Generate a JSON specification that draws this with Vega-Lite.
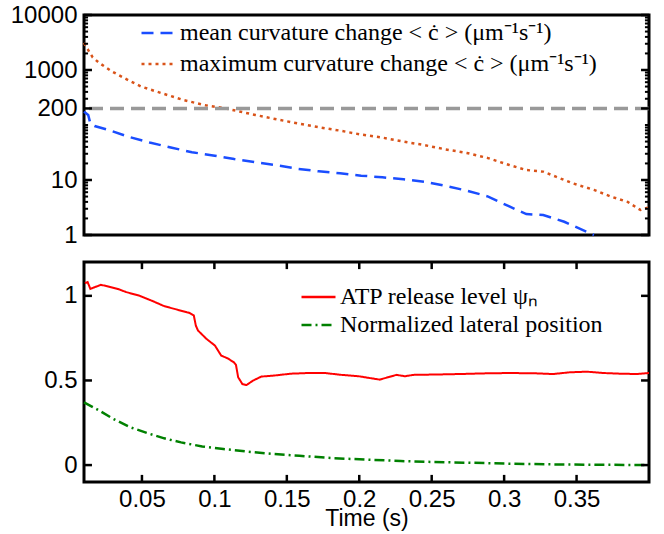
{
  "$schema": "https://vega.github.io/schema/vega-lite/v6.json",
  "padding": {"left": 8, "top": 1, "right": 5, "bottom": 4},
  "config": {
    "view": {"stroke": "black", "strokeWidth": 3},
    "axis": {"ticks": false, "labelFont": "Liberation Sans", "labelFontSize": 24, "labelColor": "black", "titleFont": "Liberation Sans", "titleFontSize": 23, "titleFontWeight": "normal", "titleColor": "black", "grid": false, "domain": false},
    "legend": {"labelFont": "Liberation Serif", "labelColor": "black", "labelFontSize": 24, "labelLimit": 600, "symbolType": "stroke", "symbolSize": 1156, "symbolStrokeWidth": 2.5, "labelOffset": 3, "padding": 0, "title": null}
  },
  "datasets": {
    "curv": [
      {"t": 0.01, "v": 175, "series": "mean curvature change < ċ > (μm⁻¹s⁻¹)"},
      {"t": 0.0129, "v": 152, "series": "mean curvature change < ċ > (μm⁻¹s⁻¹)"},
      {"t": 0.0144, "v": 106, "series": "mean curvature change < ċ > (μm⁻¹s⁻¹)"},
      {"t": 0.0173, "v": 96, "series": "mean curvature change < ċ > (μm⁻¹s⁻¹)"},
      {"t": 0.029, "v": 78, "series": "mean curvature change < ċ > (μm⁻¹s⁻¹)"},
      {"t": 0.0407, "v": 61, "series": "mean curvature change < ċ > (μm⁻¹s⁻¹)"},
      {"t": 0.0553, "v": 48, "series": "mean curvature change < ċ > (μm⁻¹s⁻¹)"},
      {"t": 0.0699, "v": 39, "series": "mean curvature change < ċ > (μm⁻¹s⁻¹)"},
      {"t": 0.0845, "v": 32, "series": "mean curvature change < ċ > (μm⁻¹s⁻¹)"},
      {"t": 0.0991, "v": 28, "series": "mean curvature change < ċ > (μm⁻¹s⁻¹)"},
      {"t": 0.1137, "v": 24, "series": "mean curvature change < ċ > (μm⁻¹s⁻¹)"},
      {"t": 0.1283, "v": 21, "series": "mean curvature change < ċ > (μm⁻¹s⁻¹)"},
      {"t": 0.1429, "v": 18.5, "series": "mean curvature change < ċ > (μm⁻¹s⁻¹)"},
      {"t": 0.1575, "v": 16, "series": "mean curvature change < ċ > (μm⁻¹s⁻¹)"},
      {"t": 0.172, "v": 14.4, "series": "mean curvature change < ċ > (μm⁻¹s⁻¹)"},
      {"t": 0.1867, "v": 13.2, "series": "mean curvature change < ċ > (μm⁻¹s⁻¹)"},
      {"t": 0.2013, "v": 12, "series": "mean curvature change < ċ > (μm⁻¹s⁻¹)"},
      {"t": 0.2159, "v": 11.2, "series": "mean curvature change < ċ > (μm⁻¹s⁻¹)"},
      {"t": 0.2305, "v": 10.3, "series": "mean curvature change < ċ > (μm⁻¹s⁻¹)"},
      {"t": 0.2451, "v": 9.3, "series": "mean curvature change < ċ > (μm⁻¹s⁻¹)"},
      {"t": 0.2597, "v": 7.8, "series": "mean curvature change < ċ > (μm⁻¹s⁻¹)"},
      {"t": 0.2743, "v": 6.4, "series": "mean curvature change < ċ > (μm⁻¹s⁻¹)"},
      {"t": 0.289, "v": 5, "series": "mean curvature change < ċ > (μm⁻¹s⁻¹)"},
      {"t": 0.3036, "v": 3.3, "series": "mean curvature change < ċ > (μm⁻¹s⁻¹)"},
      {"t": 0.3153, "v": 2.4, "series": "mean curvature change < ċ > (μm⁻¹s⁻¹)"},
      {"t": 0.327, "v": 2.3, "series": "mean curvature change < ċ > (μm⁻¹s⁻¹)"},
      {"t": 0.3415, "v": 1.74, "series": "mean curvature change < ċ > (μm⁻¹s⁻¹)"},
      {"t": 0.362, "v": 1.0, "series": "mean curvature change < ċ > (μm⁻¹s⁻¹)"},
      {"t": 0.01, "v": 3100, "series": "maximum curvature change < ċ > (μm⁻¹s⁻¹)"},
      {"t": 0.0125, "v": 2400, "series": "maximum curvature change < ċ > (μm⁻¹s⁻¹)"},
      {"t": 0.016, "v": 1700, "series": "maximum curvature change < ċ > (μm⁻¹s⁻¹)"},
      {"t": 0.0204, "v": 1350, "series": "maximum curvature change < ċ > (μm⁻¹s⁻¹)"},
      {"t": 0.029, "v": 950, "series": "maximum curvature change < ċ > (μm⁻¹s⁻¹)"},
      {"t": 0.0407, "v": 650, "series": "maximum curvature change < ċ > (μm⁻¹s⁻¹)"},
      {"t": 0.0494, "v": 500, "series": "maximum curvature change < ċ > (μm⁻¹s⁻¹)"},
      {"t": 0.064, "v": 376, "series": "maximum curvature change < ċ > (μm⁻¹s⁻¹)"},
      {"t": 0.0786, "v": 285, "series": "maximum curvature change < ċ > (μm⁻¹s⁻¹)"},
      {"t": 0.0932, "v": 230, "series": "maximum curvature change < ċ > (μm⁻¹s⁻¹)"},
      {"t": 0.1079, "v": 200, "series": "maximum curvature change < ċ > (μm⁻¹s⁻¹)"},
      {"t": 0.1283, "v": 152, "series": "maximum curvature change < ċ > (μm⁻¹s⁻¹)"},
      {"t": 0.1429, "v": 127, "series": "maximum curvature change < ċ > (μm⁻¹s⁻¹)"},
      {"t": 0.1575, "v": 107, "series": "maximum curvature change < ċ > (μm⁻¹s⁻¹)"},
      {"t": 0.1721, "v": 91, "series": "maximum curvature change < ċ > (μm⁻¹s⁻¹)"},
      {"t": 0.1867, "v": 79, "series": "maximum curvature change < ċ > (μm⁻¹s⁻¹)"},
      {"t": 0.2013, "v": 67, "series": "maximum curvature change < ċ > (μm⁻¹s⁻¹)"},
      {"t": 0.2159, "v": 59, "series": "maximum curvature change < ċ > (μm⁻¹s⁻¹)"},
      {"t": 0.2305, "v": 50, "series": "maximum curvature change < ċ > (μm⁻¹s⁻¹)"},
      {"t": 0.2451, "v": 43, "series": "maximum curvature change < ċ > (μm⁻¹s⁻¹)"},
      {"t": 0.2597, "v": 36, "series": "maximum curvature change < ċ > (μm⁻¹s⁻¹)"},
      {"t": 0.2743, "v": 31, "series": "maximum curvature change < ċ > (μm⁻¹s⁻¹)"},
      {"t": 0.2889, "v": 25, "series": "maximum curvature change < ċ > (μm⁻¹s⁻¹)"},
      {"t": 0.3036, "v": 18.7, "series": "maximum curvature change < ċ > (μm⁻¹s⁻¹)"},
      {"t": 0.3152, "v": 15.2, "series": "maximum curvature change < ċ > (μm⁻¹s⁻¹)"},
      {"t": 0.3269, "v": 14.2, "series": "maximum curvature change < ċ > (μm⁻¹s⁻¹)"},
      {"t": 0.3357, "v": 11.5, "series": "maximum curvature change < ċ > (μm⁻¹s⁻¹)"},
      {"t": 0.3474, "v": 8.7, "series": "maximum curvature change < ċ > (μm⁻¹s⁻¹)"},
      {"t": 0.362, "v": 6.6, "series": "maximum curvature change < ċ > (μm⁻¹s⁻¹)"},
      {"t": 0.3737, "v": 5, "series": "maximum curvature change < ċ > (μm⁻¹s⁻¹)"},
      {"t": 0.3853, "v": 4.0, "series": "maximum curvature change < ċ > (μm⁻¹s⁻¹)"},
      {"t": 0.3941, "v": 2.85, "series": "maximum curvature change < ċ > (μm⁻¹s⁻¹)"},
      {"t": 0.4, "v": 3.2, "series": "maximum curvature change < ċ > (μm⁻¹s⁻¹)"}
    ],
    "ref": [{"v": 200}],
    "majorticks": [{"v": 1}, {"v": 10}, {"v": 200}, {"v": 1000}, {"v": 10000}],
    "minorticks": [
      {"v": 2}, {"v": 3}, {"v": 4}, {"v": 5}, {"v": 6}, {"v": 7}, {"v": 8}, {"v": 9},
      {"v": 20}, {"v": 30}, {"v": 40}, {"v": 50}, {"v": 60}, {"v": 70}, {"v": 80}, {"v": 90},
      {"v": 100}, {"v": 300}, {"v": 400}, {"v": 500}, {"v": 600}, {"v": 700}, {"v": 800}, {"v": 900},
      {"v": 2000}, {"v": 3000}, {"v": 4000}, {"v": 5000}, {"v": 6000}, {"v": 7000}, {"v": 8000}, {"v": 9000}
    ],
    "xticks": [{"t": 0.05}, {"t": 0.1}, {"t": 0.15}, {"t": 0.2}, {"t": 0.25}, {"t": 0.3}, {"t": 0.35}],
    "yticks": [{"v": 0}, {"v": 0.5}, {"v": 1}],
    "atp": [
      {"t": 0.0106, "v": 1.075, "series": "ATP release level ψₙ"},
      {"t": 0.0125, "v": 1.081, "series": "ATP release level ψₙ"},
      {"t": 0.0144, "v": 1.041, "series": "ATP release level ψₙ"},
      {"t": 0.0173, "v": 1.051, "series": "ATP release level ψₙ"},
      {"t": 0.0217, "v": 1.065, "series": "ATP release level ψₙ"},
      {"t": 0.026, "v": 1.057, "series": "ATP release level ψₙ"},
      {"t": 0.0333, "v": 1.041, "series": "ATP release level ψₙ"},
      {"t": 0.0392, "v": 1.022, "series": "ATP release level ψₙ"},
      {"t": 0.0479, "v": 1.002, "series": "ATP release level ψₙ"},
      {"t": 0.0566, "v": 0.972, "series": "ATP release level ψₙ"},
      {"t": 0.0654, "v": 0.939, "series": "ATP release level ψₙ"},
      {"t": 0.0741, "v": 0.919, "series": "ATP release level ψₙ"},
      {"t": 0.0829, "v": 0.899, "series": "ATP release level ψₙ"},
      {"t": 0.0858, "v": 0.884, "series": "ATP release level ψₙ"},
      {"t": 0.0872, "v": 0.824, "series": "ATP release level ψₙ"},
      {"t": 0.0887, "v": 0.795, "series": "ATP release level ψₙ"},
      {"t": 0.0945, "v": 0.746, "series": "ATP release level ψₙ"},
      {"t": 0.1004, "v": 0.706, "series": "ATP release level ψₙ"},
      {"t": 0.1047, "v": 0.647, "series": "ATP release level ψₙ"},
      {"t": 0.1091, "v": 0.631, "series": "ATP release level ψₙ"},
      {"t": 0.1135, "v": 0.607, "series": "ATP release level ψₙ"},
      {"t": 0.1149, "v": 0.592, "series": "ATP release level ψₙ"},
      {"t": 0.1164, "v": 0.519, "series": "ATP release level ψₙ"},
      {"t": 0.1193, "v": 0.479, "series": "ATP release level ψₙ"},
      {"t": 0.1222, "v": 0.473, "series": "ATP release level ψₙ"},
      {"t": 0.1266, "v": 0.499, "series": "ATP release level ψₙ"},
      {"t": 0.1324, "v": 0.523, "series": "ATP release level ψₙ"},
      {"t": 0.1412, "v": 0.529, "series": "ATP release level ψₙ"},
      {"t": 0.1528, "v": 0.54, "series": "ATP release level ψₙ"},
      {"t": 0.1645, "v": 0.544, "series": "ATP release level ψₙ"},
      {"t": 0.1762, "v": 0.544, "series": "ATP release level ψₙ"},
      {"t": 0.1878, "v": 0.533, "series": "ATP release level ψₙ"},
      {"t": 0.1995, "v": 0.525, "series": "ATP release level ψₙ"},
      {"t": 0.2082, "v": 0.513, "series": "ATP release level ψₙ"},
      {"t": 0.2141, "v": 0.505, "series": "ATP release level ψₙ"},
      {"t": 0.2199, "v": 0.519, "series": "ATP release level ψₙ"},
      {"t": 0.2257, "v": 0.533, "series": "ATP release level ψₙ"},
      {"t": 0.2315, "v": 0.525, "series": "ATP release level ψₙ"},
      {"t": 0.2374, "v": 0.533, "series": "ATP release level ψₙ"},
      {"t": 0.2519, "v": 0.535, "series": "ATP release level ψₙ"},
      {"t": 0.2694, "v": 0.538, "series": "ATP release level ψₙ"},
      {"t": 0.2869, "v": 0.542, "series": "ATP release level ψₙ"},
      {"t": 0.3044, "v": 0.544, "series": "ATP release level ψₙ"},
      {"t": 0.3219, "v": 0.542, "series": "ATP release level ψₙ"},
      {"t": 0.3336, "v": 0.538, "series": "ATP release level ψₙ"},
      {"t": 0.3452, "v": 0.548, "series": "ATP release level ψₙ"},
      {"t": 0.3569, "v": 0.552, "series": "ATP release level ψₙ"},
      {"t": 0.3685, "v": 0.544, "series": "ATP release level ψₙ"},
      {"t": 0.3802, "v": 0.54, "series": "ATP release level ψₙ"},
      {"t": 0.3919, "v": 0.538, "series": "ATP release level ψₙ"},
      {"t": 0.4, "v": 0.544, "series": "ATP release level ψₙ"}
    ],
    "lat": [
      {"t": 0.01, "v": 0.371, "series": "Normalized lateral position"},
      {"t": 0.0187, "v": 0.331, "series": "Normalized lateral position"},
      {"t": 0.0304, "v": 0.272, "series": "Normalized lateral position"},
      {"t": 0.0421, "v": 0.223, "series": "Normalized lateral position"},
      {"t": 0.0537, "v": 0.189, "series": "Normalized lateral position"},
      {"t": 0.0654, "v": 0.158, "series": "Normalized lateral position"},
      {"t": 0.077, "v": 0.134, "series": "Normalized lateral position"},
      {"t": 0.0916, "v": 0.11, "series": "Normalized lateral position"},
      {"t": 0.1062, "v": 0.095, "series": "Normalized lateral position"},
      {"t": 0.1237, "v": 0.079, "series": "Normalized lateral position"},
      {"t": 0.1412, "v": 0.065, "series": "Normalized lateral position"},
      {"t": 0.1587, "v": 0.055, "series": "Normalized lateral position"},
      {"t": 0.182, "v": 0.041, "series": "Normalized lateral position"},
      {"t": 0.2053, "v": 0.032, "series": "Normalized lateral position"},
      {"t": 0.2286, "v": 0.024, "series": "Normalized lateral position"},
      {"t": 0.2519, "v": 0.018, "series": "Normalized lateral position"},
      {"t": 0.2753, "v": 0.014, "series": "Normalized lateral position"},
      {"t": 0.3044, "v": 0.008, "series": "Normalized lateral position"},
      {"t": 0.3336, "v": 0.004, "series": "Normalized lateral position"},
      {"t": 0.3627, "v": 0.002, "series": "Normalized lateral position"},
      {"t": 0.4, "v": 0.0, "series": "Normalized lateral position"}
    ]
  },
  "spacing": 27,
  "bounds": "flush",
  "resolve": {
    "scale": {"x": "independent", "y": "independent", "color": "independent", "strokeDash": "independent"},
    "legend": {"color": "independent", "strokeDash": "independent"}
  },
  "vconcat": [
    {
      "width": 565,
      "height": 220,
      "layer": [
        {
          "data": {"name": "curv"},
          "mark": {"type": "line", "strokeWidth": 2.5},
          "encoding": {
            "x": {"field": "t", "type": "quantitative", "scale": {"domain": [0.01, 0.4], "nice": false, "zero": false}, "axis": null},
            "y": {"field": "v", "type": "quantitative", "scale": {"type": "log", "domain": [1, 10000], "nice": false},
              "axis": {"orient": "left", "title": null, "format": "d", "grid": false, "ticks": false, "labelPadding": 7, "values": [1, 10, 200, 1000, 10000]}},
            "color": {"field": "series", "type": "nominal",
              "scale": {"domain": ["mean curvature change < ċ > (μm⁻¹s⁻¹)", "maximum curvature change < ċ > (μm⁻¹s⁻¹)"], "range": ["#1a4dff", "#d95319"]},
              "legend": {"orient": "none", "legendX": 56, "legendY": 5, "clipHeight": 26, "rowPadding": 5}},
            "strokeDash": {"field": "series", "type": "nominal",
              "scale": {"domain": ["mean curvature change < ċ > (μm⁻¹s⁻¹)", "maximum curvature change < ċ > (μm⁻¹s⁻¹)"], "range": [[12, 7], [3, 4]]},
              "legend": {"orient": "none", "legendX": 56, "legendY": 5, "clipHeight": 26, "rowPadding": 5}}
          }
        },
        {
          "data": {"name": "ref"},
          "mark": {"type": "rule", "color": "#999999", "strokeWidth": 3.5, "strokeDash": [14, 7]},
          "encoding": {
            "y": {"field": "v", "type": "quantitative", "scale": {"type": "log", "domain": [1, 10000], "nice": false}}
          }
        },
        {
          "data": {"name": "majorticks"},
          "mark": {"type": "rule", "color": "black", "strokeWidth": 2.5},
          "encoding": {
            "x": {"datum": 0.01, "type": "quantitative", "scale": {"domain": [0.01, 0.4], "nice": false, "zero": false}, "axis": null},
            "x2": {"datum": 0.0155},
            "y": {"field": "v", "type": "quantitative", "scale": {"type": "log", "domain": [1, 10000], "nice": false}}
          }
        },
        {
          "data": {"name": "majorticks"},
          "mark": {"type": "rule", "color": "black", "strokeWidth": 2.5},
          "encoding": {
            "x": {"datum": 0.4, "type": "quantitative", "scale": {"domain": [0.01, 0.4], "nice": false, "zero": false}, "axis": null},
            "x2": {"datum": 0.3945},
            "y": {"field": "v", "type": "quantitative", "scale": {"type": "log", "domain": [1, 10000], "nice": false}}
          }
        },
        {
          "data": {"name": "minorticks"},
          "mark": {"type": "rule", "color": "black", "strokeWidth": 2},
          "encoding": {
            "x": {"datum": 0.01, "type": "quantitative", "scale": {"domain": [0.01, 0.4], "nice": false, "zero": false}, "axis": null},
            "x2": {"datum": 0.0128},
            "y": {"field": "v", "type": "quantitative", "scale": {"type": "log", "domain": [1, 10000], "nice": false}}
          }
        },
        {
          "data": {"name": "minorticks"},
          "mark": {"type": "rule", "color": "black", "strokeWidth": 2},
          "encoding": {
            "x": {"datum": 0.4, "type": "quantitative", "scale": {"domain": [0.01, 0.4], "nice": false, "zero": false}, "axis": null},
            "x2": {"datum": 0.3972},
            "y": {"field": "v", "type": "quantitative", "scale": {"type": "log", "domain": [1, 10000], "nice": false}}
          }
        }
      ]
    },
    {
      "width": 565,
      "height": 220,
      "layer": [
        {
          "data": {"name": "atp"},
          "mark": {"type": "line", "strokeWidth": 2},
          "encoding": {
            "x": {"field": "t", "type": "quantitative", "scale": {"domain": [0.01, 0.4], "nice": false, "zero": false},
              "axis": {"orient": "bottom", "title": "Time (s)", "format": "~g", "grid": false, "ticks": false, "labelPadding": 5, "titlePadding": -4, "values": [0.05, 0.1, 0.15, 0.2, 0.25, 0.3, 0.35]}},
            "y": {"field": "v", "type": "quantitative", "scale": {"domain": [-0.1, 1.2], "nice": false, "zero": false},
              "axis": {"orient": "left", "title": null, "format": "~g", "grid": false, "ticks": false, "labelPadding": 7, "values": [0, 0.5, 1]}},
            "color": {"field": "series", "type": "nominal",
              "scale": {"domain": ["ATP release level ψₙ", "Normalized lateral position"], "range": ["#ff0000", "#008000"]},
              "legend": {"orient": "none", "legendX": 216, "legendY": 24, "clipHeight": 22, "rowPadding": 4}},
            "strokeDash": {"field": "series", "type": "nominal",
              "scale": {"domain": ["ATP release level ψₙ", "Normalized lateral position"], "range": [[1, 0], [10, 4, 2, 4]]},
              "legend": {"orient": "none", "legendX": 216, "legendY": 24, "clipHeight": 22, "rowPadding": 4}}
          }
        },
        {
          "data": {"name": "lat"},
          "mark": {"type": "line", "strokeWidth": 2.5},
          "encoding": {
            "x": {"field": "t", "type": "quantitative", "scale": {"domain": [0.01, 0.4], "nice": false, "zero": false}},
            "y": {"field": "v", "type": "quantitative", "scale": {"domain": [-0.1, 1.2], "nice": false, "zero": false}},
            "color": {"field": "series", "type": "nominal",
              "scale": {"domain": ["ATP release level ψₙ", "Normalized lateral position"], "range": ["#ff0000", "#008000"]},
              "legend": {"orient": "none", "legendX": 216, "legendY": 24, "clipHeight": 22, "rowPadding": 4}},
            "strokeDash": {"field": "series", "type": "nominal",
              "scale": {"domain": ["ATP release level ψₙ", "Normalized lateral position"], "range": [[1, 0], [10, 4, 2, 4]]},
              "legend": {"orient": "none", "legendX": 216, "legendY": 24, "clipHeight": 22, "rowPadding": 4}}
          }
        },
        {
          "data": {"name": "xticks"},
          "mark": {"type": "rule", "color": "black", "strokeWidth": 2.5},
          "encoding": {
            "x": {"field": "t", "type": "quantitative", "scale": {"domain": [0.01, 0.4], "nice": false, "zero": false}},
            "y": {"datum": -0.1, "type": "quantitative", "scale": {"domain": [-0.1, 1.2], "nice": false, "zero": false}},
            "y2": {"datum": -0.058}
          }
        },
        {
          "data": {"name": "xticks"},
          "mark": {"type": "rule", "color": "black", "strokeWidth": 2.5},
          "encoding": {
            "x": {"field": "t", "type": "quantitative", "scale": {"domain": [0.01, 0.4], "nice": false, "zero": false}},
            "y": {"datum": 1.2, "type": "quantitative", "scale": {"domain": [-0.1, 1.2], "nice": false, "zero": false}},
            "y2": {"datum": 1.158}
          }
        },
        {
          "data": {"name": "yticks"},
          "mark": {"type": "rule", "color": "black", "strokeWidth": 2.5},
          "encoding": {
            "x": {"datum": 0.01, "type": "quantitative", "scale": {"domain": [0.01, 0.4], "nice": false, "zero": false}},
            "x2": {"datum": 0.0155},
            "y": {"field": "v", "type": "quantitative", "scale": {"domain": [-0.1, 1.2], "nice": false, "zero": false}}
          }
        },
        {
          "data": {"name": "yticks"},
          "mark": {"type": "rule", "color": "black", "strokeWidth": 2.5},
          "encoding": {
            "x": {"datum": 0.4, "type": "quantitative", "scale": {"domain": [0.01, 0.4], "nice": false, "zero": false}},
            "x2": {"datum": 0.3945},
            "y": {"field": "v", "type": "quantitative", "scale": {"domain": [-0.1, 1.2], "nice": false, "zero": false}}
          }
        }
      ]
    }
  ]
}
